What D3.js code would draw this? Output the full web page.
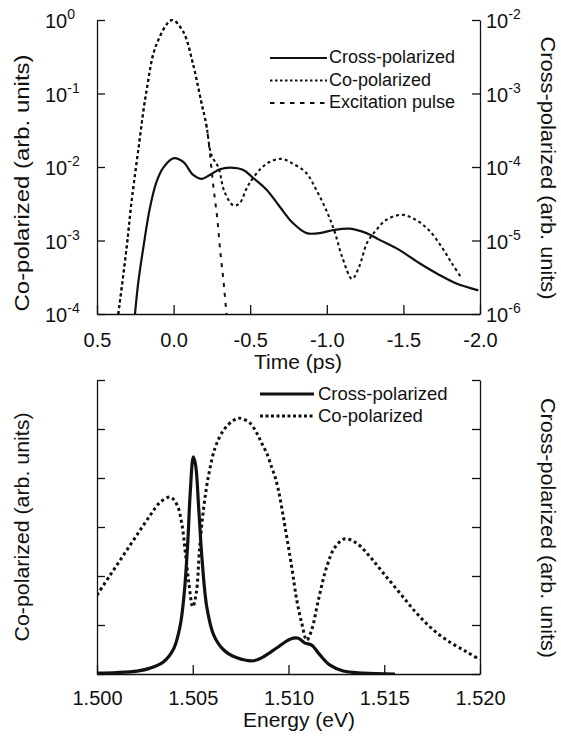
<!DOCTYPE html>
<html>
<head>
<meta charset="utf-8">
<script src="https://cdn.jsdelivr.net/npm/d3@7"></script>
<style>
    body { margin: 0; background: #fff; }
    svg { font-family: "Liberation Sans", Arial, Helvetica, sans-serif; fill: #111; }
    .axis path, .axis line { stroke: #111; stroke-width: 1.3; }
    .curve { fill: none; stroke: #111; }
</style>
</head>
<body>
<svg id="svg" width="561" height="739"></svg>
<script>
// top panel: time domain (ps), log scales
var timeTicks = [0.5, 0.0, -0.5, -1.0, -1.5, -2.0];
var timeTickLabels = ["0.5", "0.0", "-0.5", "-1.0", "-1.5", "-2.0"];
var leftLogTicks = [1e-4, 1e-3, 1e-2, 1e-1, 1];
var leftLogExp = ["-4", "-3", "-2", "-1", "0"];
var rightLogTicks = [1e-6, 1e-5, 1e-4, 1e-3, 1e-2];
var rightLogExp = ["-6", "-5", "-4", "-3", "-2"];

// cross-polarized, read on the right axis
var crossTime = [0.252, 0.230, 0.198, 0.155, 0.111, 0.067, -0.002, -0.063, -0.128, -0.183, -0.237, -0.302, -0.368, -0.455, -0.516, -0.607, -0.692, -0.777, -0.868, -0.953, -1.038, -1.149, -1.259, -1.344, -1.475, -1.605, -1.735, -1.846, -1.989];
var crossValue = [1.0e-6, 2.75e-6, 7.9e-6, 2.75e-5, 6.3e-5, 9.8e-5, 1.32e-4, 1.17e-4, 7.8e-5, 6.9e-5, 7.8e-5, 9.3e-5, 9.8e-5, 9.1e-5, 7.2e-5, 4.9e-5, 2.9e-5, 1.74e-5, 1.26e-5, 1.26e-5, 1.38e-5, 1.45e-5, 1.26e-5, 1.02e-5, 7.4e-6, 4.9e-6, 3.4e-6, 2.6e-6, 2.1e-6];

// co-polarized, read on the left axis
var coTime = [0.361, 0.307, 0.275, 0.229, 0.178, 0.113, 0.01, -0.063, -0.128, -0.181, -0.214, -0.247, -0.293, -0.332, -0.391, -0.430, -0.476, -0.495, -0.560, -0.625, -0.703, -0.775, -0.866, -0.931, -0.996, -1.048, -1.100, -1.165, -1.211, -1.263, -1.322, -1.387, -1.491, -1.582, -1.667, -1.751, -1.816, -1.875];
var coValue = [1.0e-4, 7.9e-4, 3.3e-3, 1.8e-2, 0.105, 0.46, 1.0, 0.69, 0.245, 0.076, 0.037, 0.0145, 0.0098, 0.0046, 0.0030, 0.0032, 0.0051, 0.0060, 0.0091, 0.0117, 0.0129, 0.0112, 0.0083, 0.0049, 0.0026, 0.00138, 6.0e-4, 3.0e-4, 4.4e-4, 9.3e-4, 1.38e-3, 1.9e-3, 2.24e-3, 1.9e-3, 1.38e-3, 8.1e-4, 4.9e-4, 3.2e-4];

// excitation pulse, left axis (same trace as co-polarized up to about -0.21 ps)
var pulseTime = [0.361, 0.307, 0.275, 0.229, 0.178, 0.113, 0.01, -0.063, -0.128, -0.181, -0.214, -0.261, -0.285, -0.305, -0.326, -0.345];
var pulseValue = [1.0e-4, 7.9e-4, 3.3e-3, 1.8e-2, 0.105, 0.46, 1.0, 0.69, 0.245, 0.076, 0.037, 5.1e-3, 2.0e-3, 7.0e-4, 2.75e-4, 1.0e-4];
var pulseShared = 11;

var topLegend = ["Cross-polarized", "Co-polarized", "Excitation pulse"];

// bottom panel: spectra (linear, arb. units)
var energyTicks = [1.500, 1.505, 1.510, 1.515, 1.520];
var energyTickLabels = ["1.500", "1.505", "1.510", "1.515", "1.520"];
var spectrumTicks = [0, 1, 2, 3, 4, 5, 6];

var crossEnergy = [1.5000, 1.50104, 1.50209, 1.50278, 1.50348, 1.50401, 1.50435, 1.50456, 1.50474, 1.50487, 1.50503, 1.50515, 1.50531, 1.50548, 1.50574, 1.50609, 1.50662, 1.50731, 1.50818, 1.50868, 1.50938, 1.51008, 1.51051, 1.51086, 1.51121, 1.51164, 1.51217, 1.51286, 1.51391, 1.51556];
var crossSpectrum = [0.02, 0.03, 0.06, 0.12, 0.25, 0.52, 1.0, 1.67, 2.69, 3.71, 4.43, 4.26, 3.39, 2.37, 1.35, 0.80, 0.49, 0.33, 0.27, 0.35, 0.53, 0.71, 0.73, 0.63, 0.59, 0.39, 0.18, 0.06, 0.02, 0.0];

var coEnergy = [1.5000, 1.50069, 1.50139, 1.50209, 1.50278, 1.50331, 1.50383, 1.50418, 1.50444, 1.50461, 1.50479, 1.50500, 1.50519, 1.50536, 1.50557, 1.50583, 1.50618, 1.50662, 1.50714, 1.50748, 1.50799, 1.50834, 1.50860, 1.50886, 1.50912, 1.50930, 1.50947, 1.50964, 1.50982, 1.51017, 1.51043, 1.51069, 1.51095, 1.51121, 1.51156, 1.51199, 1.51243, 1.51295, 1.51356, 1.51426, 1.51495, 1.51582, 1.51669, 1.51756, 1.51843, 1.51931, 1.52000];
var coSpectrum = [1.61, 2.02, 2.43, 2.84, 3.24, 3.51, 3.61, 3.45, 3.04, 2.49, 1.88, 1.37, 1.67, 2.57, 3.39, 4.06, 4.63, 4.98, 5.18, 5.22, 5.12, 4.92, 4.71, 4.51, 4.22, 4.02, 3.76, 3.41, 3.0, 2.18, 1.51, 1.04, 0.69, 0.90, 1.51, 2.18, 2.59, 2.76, 2.67, 2.39, 2.06, 1.65, 1.24, 0.90, 0.65, 0.45, 0.29];

var bottomLegend = ["Cross-polarized", "Co-polarized"];

function zip(xs, ys) {
    return xs.map(function (x, i) { return [x, ys[i]]; });
}

var svg = d3.select("svg");
var defs = svg.append("defs");

var L = 97, R = 480;

// ---------- top panel ----------
var xTime = d3.scaleLinear().domain([0.5, -2.0]).range([L, R]);
var yLeft = d3.scaleLog().domain([1e-4, 1]).range([314, 20]);
var yRight = d3.scaleLog().domain([1e-6, 1e-2]).range([314, 20]);

defs.append("clipPath").attr("id", "clipTop")
    .append("rect").attr("x", L).attr("y", 8).attr("width", R - L).attr("height", 314 - 8);

var topPanel = svg.append("g");

var gx = topPanel.append("g").attr("class", "axis")
    .attr("transform", "translate(0,314)")
    .call(d3.axisBottom(xTime).tickValues(timeTicks).tickSize(-9).tickSizeOuter(0)
        .tickFormat(function (d, i) { return timeTickLabels[i]; }));
gx.selectAll("text").attr("y", 33).attr("dy", 0).attr("font-size", 20).attr("fill", "#111");

topPanel.append("g").attr("class", "axis")
    .attr("transform", "translate(" + L + ",0)")
    .call(d3.axisLeft(yLeft).tickValues(leftLogTicks).tickSize(-8).tickSizeOuter(0).tickFormat(""));

topPanel.append("g").attr("class", "axis")
    .attr("transform", "translate(" + R + ",0)")
    .call(d3.axisRight(yRight).tickValues(rightLogTicks).tickSize(-8).tickSizeOuter(0).tickFormat(""));

// power-of-ten labels
leftLogTicks.forEach(function (v, i) {
    var t = topPanel.append("text").attr("x", 45).attr("y", yLeft(v) + 8).attr("font-size", 20).text("10");
    t.append("tspan").attr("dy", -9).attr("font-size", 14).text(leftLogExp[i]);
});
rightLogTicks.forEach(function (v, i) {
    var t = topPanel.append("text").attr("x", 486).attr("y", yRight(v) + 8).attr("font-size", 20).text("10");
    t.append("tspan").attr("dy", -9).attr("font-size", 14).text(rightLogExp[i]);
});

topPanel.append("text").attr("x", 298).attr("y", 369).attr("text-anchor", "middle")
    .attr("font-size", 21).text("Time (ps)");
topPanel.append("text").attr("transform", "translate(22,183) rotate(-90)")
    .attr("text-anchor", "middle").attr("dy", "0.35em").attr("font-size", 21)
    .attr("textLength", 257).attr("lengthAdjust", "spacingAndGlyphs")
    .text("Co-polarized (arb. units)");
topPanel.append("text").attr("transform", "translate(548,168) rotate(90)")
    .attr("text-anchor", "middle").attr("dy", "0.35em").attr("font-size", 21)
    .attr("textLength", 263).attr("lengthAdjust", "spacingAndGlyphs")
    .text("Cross-polarized (arb. units)");

var lineLeft = d3.line()
    .x(function (d) { return xTime(d[0]); })
    .y(function (d) { return yLeft(d[1]); })
    .curve(d3.curveCatmullRom.alpha(0.5));
var lineRight = d3.line()
    .x(function (d) { return xTime(d[0]); })
    .y(function (d) { return yRight(d[1]); })
    .curve(d3.curveCatmullRom.alpha(0.5));

var topCurves = topPanel.append("g").attr("clip-path", "url(#clipTop)");

// the pulse runs on top of the co-polarized trace at first, so keep the
// same dot rhythm there and switch to longer dashes after the split
var pulsePath = topCurves.append("path").attr("class", "curve")
    .attr("d", lineLeft(zip(pulseTime, pulseValue)))
    .attr("stroke-width", 2);
var tmp = topCurves.append("path")
    .attr("d", lineLeft(zip(pulseTime.slice(0, pulseShared), pulseValue.slice(0, pulseShared))));
var sharedLen = tmp.node().getTotalLength();
tmp.remove();
var dash = [];
for (var k = 0; k < Math.floor(sharedLen / 6); k++) dash.push(3, 3);
for (var k = 0; k < 40; k++) dash.push(4, 6);
pulsePath.attr("stroke-dasharray", dash.join(","));

topCurves.append("path").attr("class", "curve")
    .attr("d", lineLeft(zip(coTime, coValue)))
    .attr("stroke-width", 2.1).attr("stroke-dasharray", "3,3");
topCurves.append("path").attr("class", "curve")
    .attr("d", lineRight(zip(crossTime, crossValue)))
    .attr("stroke-width", 2.2);

// legend
var topStyles = [{w: 2.2, dash: null}, {w: 2, dash: "2.5,2.5"}, {w: 2, dash: "4.5,5.5"}];
topLegend.forEach(function (name, i) {
    var y = 58 + i * 22.5;
    topPanel.append("line").attr("x1", 270).attr("x2", 327).attr("y1", y).attr("y2", y)
        .attr("stroke", "#111").attr("stroke-width", topStyles[i].w)
        .attr("stroke-dasharray", topStyles[i].dash);
    topPanel.append("text").attr("x", 329).attr("y", y + 5).attr("font-size", 18).text(name);
});

// ---------- bottom panel ----------
var xEnergy = d3.scaleLinear().domain([1.500, 1.520]).range([L, R]);
var ySpec = d3.scaleLinear().domain([0, 6]).range([674, 380]);

defs.append("clipPath").attr("id", "clipBottom")
    .append("rect").attr("x", L).attr("y", 370).attr("width", R - L).attr("height", 304);

var botPanel = svg.append("g");

var bx = botPanel.append("g").attr("class", "axis")
    .attr("transform", "translate(0,674)")
    .call(d3.axisBottom(xEnergy).tickValues(energyTicks).tickSize(-9).tickSizeOuter(0)
        .tickFormat(function (d, i) { return energyTickLabels[i]; }));
bx.selectAll("text").attr("y", 31).attr("dy", 0).attr("font-size", 20).attr("fill", "#111");

botPanel.append("g").attr("class", "axis")
    .attr("transform", "translate(" + L + ",0)")
    .call(d3.axisLeft(ySpec).tickValues(spectrumTicks).tickSize(-8).tickSizeOuter(0).tickFormat(""));
botPanel.append("g").attr("class", "axis")
    .attr("transform", "translate(" + R + ",0)")
    .call(d3.axisRight(ySpec).tickValues(spectrumTicks).tickSize(-8).tickSizeOuter(0).tickFormat(""));

botPanel.append("text").attr("x", 299).attr("y", 727).attr("text-anchor", "middle")
    .attr("font-size", 21).text("Energy (eV)");
botPanel.append("text").attr("transform", "translate(22,527) rotate(-90)")
    .attr("text-anchor", "middle").attr("dy", "0.35em").attr("font-size", 21)
    .attr("textLength", 229).attr("lengthAdjust", "spacingAndGlyphs")
    .text("Co-polarized (arb. units)");
botPanel.append("text").attr("transform", "translate(548,528) rotate(90)")
    .attr("text-anchor", "middle").attr("dy", "0.35em").attr("font-size", 21)
    .attr("textLength", 260).attr("lengthAdjust", "spacingAndGlyphs")
    .text("Cross-polarized (arb. units)");

var lineSpec = d3.line()
    .x(function (d) { return xEnergy(d[0]); })
    .y(function (d) { return ySpec(d[1]); })
    .curve(d3.curveCatmullRom.alpha(0.5));

var botCurves = botPanel.append("g").attr("clip-path", "url(#clipBottom)");
botCurves.append("path").attr("class", "curve")
    .attr("d", lineSpec(zip(coEnergy, coSpectrum)))
    .attr("stroke-width", 3).attr("stroke-dasharray", "3,3");
botCurves.append("path").attr("class", "curve")
    .attr("d", lineSpec(zip(crossEnergy, crossSpectrum)))
    .attr("stroke-width", 3.2);

var botStyles = [{w: 3.2, dash: null}, {w: 3, dash: "3,2.5"}];
bottomLegend.forEach(function (name, i) {
    var y = 394 + i * 22;
    botPanel.append("line").attr("x1", 260).attr("x2", 314).attr("y1", y).attr("y2", y)
        .attr("stroke", "#111").attr("stroke-width", botStyles[i].w)
        .attr("stroke-dasharray", botStyles[i].dash);
    botPanel.append("text").attr("x", 318).attr("y", y + 6).attr("font-size", 18.5).text(name);
});
</script>
</body>
</html>
